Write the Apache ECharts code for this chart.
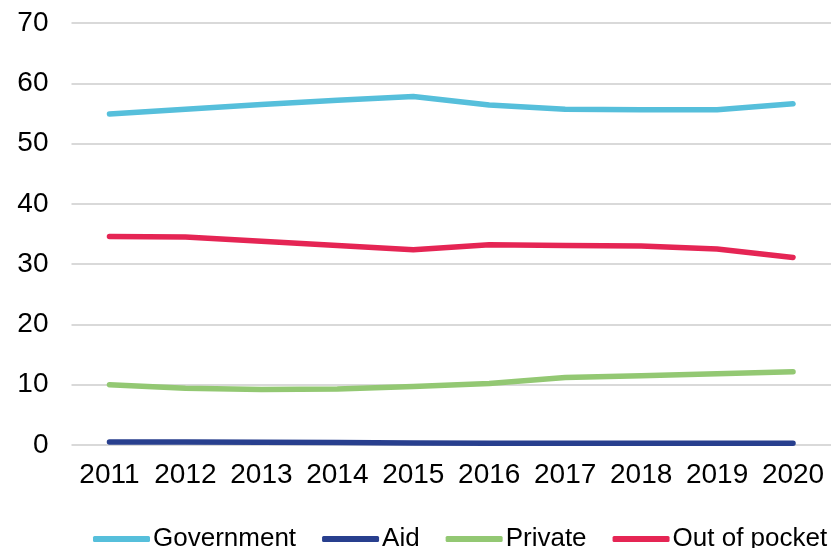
<!DOCTYPE html>
<html>
<head>
<meta charset="utf-8">
<script src="https://cdn.jsdelivr.net/npm/echarts@6/dist/echarts.min.js"></script>
<style>
  html, body { margin: 0; padding: 0; background: #fff; }
  #chart { width: 831px; height: 548px; }
</style>
</head>
<body>
<div id="chart"></div>
<script>
// Health spending by source, % of total
const years = ['2011', '2012', '2013', '2014', '2015', '2016', '2017', '2018', '2019', '2020'];
const government = [54.9, 55.7, 56.5, 57.2, 57.8, 56.4, 55.7, 55.6, 55.6, 56.6];
const aid = [0.5, 0.5, 0.45, 0.4, 0.35, 0.3, 0.3, 0.3, 0.3, 0.3];
const privateSpend = [10.0, 9.4, 9.2, 9.3, 9.7, 10.2, 11.2, 11.5, 11.8, 12.15];
const outOfPocket = [34.6, 34.5, 33.8, 33.1, 32.4, 33.2, 33.1, 33.0, 32.5, 31.1];
const yTicks = [0, 10, 20, 30, 40, 50, 60, 70];

const seriesDefs = [
  { name: 'Government', data: government, color: '#56BFDB' },
  { name: 'Aid', data: aid, color: '#283F8E' },
  { name: 'Private', data: privateSpend, color: '#93C873' },
  { name: 'Out of pocket', data: outOfPocket, color: '#E52554' }
];

const font = 'Liberation Sans, Arial, sans-serif';
const chart = echarts.init(document.getElementById('chart'), null, { renderer: 'canvas' });

chart.setOption({
  animation: false,
  backgroundColor: '#ffffff',
  grid: { left: 71.5, right: -11.5, top: 23, bottom: 103, containLabel: false },
  legend: {
    left: 93,
    top: 526,
    width: 1200,
    icon: 'roundRect',
    itemWidth: 57,
    itemHeight: 6,
    itemGap: 26,
    padding: 0,
    textStyle: { fontFamily: font, fontSize: 26, color: '#000', padding: [0, 0, 0, -2] },
    data: seriesDefs.map(s => s.name)
  },
  xAxis: {
    type: 'category',
    data: years,
    boundaryGap: true,
    axisLine: { show: false },
    axisTick: { show: false },
    axisLabel: { fontFamily: font, fontSize: 28, color: '#000', margin: 16, interval: 0 }
  },
  yAxis: {
    type: 'value',
    min: yTicks[0],
    max: yTicks[yTicks.length - 1],
    interval: 10,
    axisLine: { show: false },
    axisTick: { show: false },
    axisLabel: { fontFamily: font, fontSize: 28, color: '#000', margin: 23 },
    splitLine: { lineStyle: { color: '#d9d9d9', width: 2 } }
  },
  series: seriesDefs.map(s => ({
    name: s.name,
    type: 'line',
    data: s.data,
    symbol: 'none',
    smooth: false,
    color: s.color,
    lineStyle: { color: s.color, width: 5.5, cap: 'round', join: 'round' }
  }))
});
</script>
</body>
</html>
